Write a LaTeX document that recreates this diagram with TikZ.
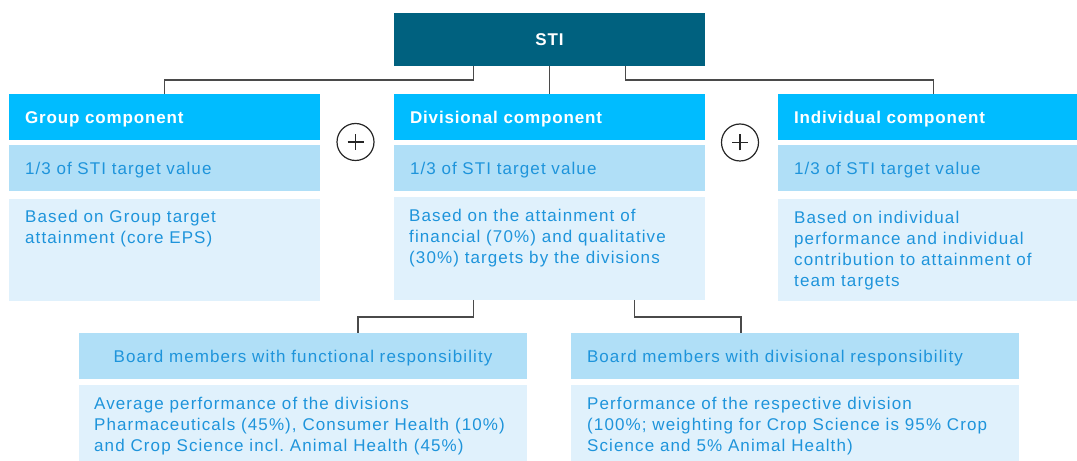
\documentclass[tikz,border=0pt]{standalone}
\usepackage{fontspec}
\setmainfont{Liberation Sans}[LetterSpace=6.5, BoldFeatures={LetterSpace=5}]
\frenchspacing
\definecolor{stidark}{HTML}{00617F}
\definecolor{hdrcyan}{HTML}{00BCFF}
\definecolor{rowmid}{HTML}{B0DFF7}
\definecolor{rowlight}{HTML}{E0F1FC}
\definecolor{txtblue}{HTML}{1E94DB}
\definecolor{connc}{HTML}{4A4A4A}
\newcommand\myhdrfont{\fontsize{17bp}{20.7bp}\selectfont\bfseries}
\newcommand\mybodyfont{\fontsize{17bp}{20.7bp}\selectfont}
\begin{document}
\begin{tikzpicture}[x=1bp,y=-1bp,
  boxbase/.style={anchor=north west, inner ysep=0pt, outer sep=0pt, inner xsep=16bp},
  stibox/.style={boxbase, fill=stidark, text=white, font=\myhdrfont, align=center,
    text width=279bp, minimum height=53bp, text height=12.2bp, text depth=0bp},
  hdrbox/.style={boxbase, fill=hdrcyan, text=white, font=\myhdrfont, align=left,
    text width=279bp, minimum height=46bp, text height=12.2bp, text depth=0bp},
  midbox/.style={boxbase, fill=rowmid, text=txtblue, font=\mybodyfont, align=left,
    text width=279bp, minimum height=46bp, text height=12.2bp, text depth=0bp},
  lowbox/.style={anchor=north west, inner sep=0pt, outer sep=0pt, fill=rowlight},
  bodytext/.style={anchor=base west, inner sep=0pt, text=txtblue, font=\mybodyfont, align=left},
  conn/.style={draw=connc, line width=1.1bp},
  plusnode/.style={circle, draw=black!85, line width=1.2bp, minimum size=37bp, inner sep=0pt},
  plusline/.style={draw=black!85, line width=1.2bp}
]
\useasboundingbox (0,0) rectangle (1077,461);

% top
\node[stibox] (sti) at (394,13) {STI};

% group column (bodytext anchored at baseline of its last line)
\node[hdrbox] (gh) at (9,94) {Group component};
\node[midbox] (g2) at (9,145) {1/3 of STI target value};
\node[lowbox, minimum width=311bp, minimum height=102bp] (g3) at (9,199) {};
\node[bodytext] (g3t) at (25,243.7) {Based on Group target\\attainment (core EPS)};

% divisional column
\node[hdrbox] (dh) at (394,94) {Divisional component};
\node[midbox] (d2) at (394,145) {1/3 of STI target value};
\node[lowbox, minimum width=311bp, minimum height=103bp] (d3) at (394,197) {};
\node[bodytext] (d3t) at (409,263.4) {Based on the attainment of\\financial (70\%) and qualitative\\(30\%) targets by the divisions};

% individual column
\node[hdrbox] (ih) at (778,94) {Individual component};
\node[midbox] (i2) at (778,145) {1/3 of STI target value};
\node[lowbox, minimum width=311bp, minimum height=102bp] (i3) at (778,199) {};
\node[bodytext] (i3t) at (794,286.1) {Based on individual\\performance and individual\\contribution to attainment of\\team targets};

% plus signs
\node[plusnode] (p1) at (355.5,142) {};
\node[plusnode] (p2) at (740,142.5) {};
\foreach \p in {p1,p2}{
  \draw[plusline] ([xshift=-8bp]\p.center) -- ([xshift=8bp]\p.center);
  \draw[plusline] ([yshift=-8bp]\p.center) -- ([yshift=8bp]\p.center);
}

% bottom boxes
\node[midbox, align=center, text width=416bp] (bl) at (79,333) {Board members with functional responsibility};
\node[lowbox, minimum width=448bp, minimum height=76bp] (bl2) at (79,385) {};
\node[bodytext] (bl2t) at (94,451.4) {Average performance of the divisions\\Pharmaceuticals (45\%), Consumer Health (10\%)\\and Crop Science incl. Animal Health (45\%)};

\node[midbox, text width=416bp] (br) at (571,333) {Board members with divisional responsibility};
\node[lowbox, minimum width=448bp, minimum height=76bp] (br2) at (571,385) {};
\node[bodytext] (br2t) at (587,451.4) {Performance of the respective division\\(100\%; weighting for Crop Science is 95\% Crop\\Science and 5\% Animal Health)};

% connectors
\draw[conn] ([xshift=-76bp]sti.south) -- ++(0,14) -| (gh.north);
\draw[conn] (sti.south) -- (dh.north);
\draw[conn] ([xshift=76bp]sti.south) -- ++(0,14) -| (ih.north);
\draw[conn] ([xshift=-76bp]d3.south) -- ++(0,17) -| ([xshift=55bp]bl.north);
\draw[conn] ([xshift=85bp]d3.south) -- ++(0,17) -| ([xshift=-54bp]br.north);
\end{tikzpicture}
\end{document}
